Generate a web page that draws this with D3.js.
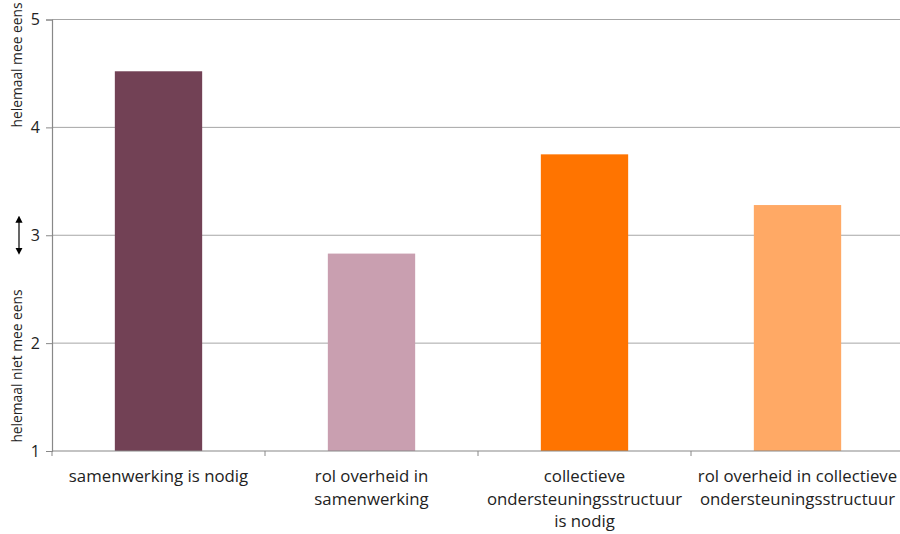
<!DOCTYPE html>
<html>
<head>
<meta charset="utf-8">
<script src="https://d3js.org/d3.v7.min.js"></script>
<style>
  body { margin: 0; background: #fff; overflow: hidden; }
  svg text { font-family: "Open Sans", sans-serif; fill: #222; }
</style>
</head>
<body>
<div id="chart"></div>
<script>
// data
var categories = ["samenwerking is nodig", "rol overheid in samenwerking",
  "collectieve ondersteuningsstructuur is nodig", "rol overheid in collectieve ondersteuningsstructuur"];
var labelLines = [
  ["samenwerking is nodig"],
  ["rol overheid in", "samenwerking"],
  ["collectieve", "ondersteuningsstructuur", "is nodig"],
  ["rol overheid in collectieve", "ondersteuningsstructuur"]
];
var values = [4.52, 2.83, 3.75, 3.28];
var colors = ["#724155", "#c99fb0", "#ff7400", "#ffa965"];
var yTicks = [1, 2, 3, 4, 5];

var width = 900, height = 534;
var margin = {top: 19.5, left: 52, bottom: 83};

var svg = d3.select("#chart").append("svg")
  .attr("width", width)
  .attr("height", height)
  .style("display", "block");

var x = d3.scaleBand()
  .domain(categories)
  .range([margin.left, margin.left + 4 * 213]);

var y = d3.scaleLinear()
  .domain([1, 5])
  .range([height - margin.bottom, margin.top]);

// gridlines
svg.append("g")
  .selectAll("line")
  .data(yTicks.slice(1))
  .enter().append("line")
  .attr("x1", margin.left)
  .attr("x2", width)
  .attr("y1", d => y(d))
  .attr("y2", d => y(d))
  .attr("stroke", "#a6a6a6")
  .attr("stroke-width", 1);

// bars
var barW = x.bandwidth() * 0.41;
svg.append("g")
  .selectAll("rect")
  .data(values)
  .enter().append("rect")
  .attr("x", (d, i) => x(categories[i]) + (x.bandwidth() - barW) / 2)
  .attr("y", d => y(d))
  .attr("width", barW)
  .attr("height", d => y(1) - y(d))
  .attr("fill", (d, i) => colors[i]);

// y axis
var yAxis = svg.append("g")
  .attr("transform", "translate(" + margin.left + ",0)")
  .call(d3.axisLeft(y).tickValues(yTicks).tickFormat(d3.format("d")).tickSize(6).tickPadding(6));
yAxis.select(".domain").attr("stroke", "#888").attr("stroke-width", 1.2);
yAxis.selectAll(".tick line").attr("stroke", "#888");
yAxis.selectAll("text").style("font-size", "16px").attr("fill", "#222");

// x axis
var xAxis = svg.append("g")
  .attr("transform", "translate(0," + y(1) + ")")
  .call(d3.axisBottom(x).tickValues([]).tickSizeOuter(0));
xAxis.select(".domain").attr("stroke", "#888").attr("stroke-width", 1.2)
  .attr("d", "M" + margin.left + ",0H" + width);
xAxis.selectAll(".sep")
  .data(categories)
  .enter().append("line")
  .attr("x1", d => x(d)).attr("x2", d => x(d))
  .attr("y1", 0).attr("y2", 5)
  .attr("stroke", "#888");

// category labels
var lab = svg.append("g").selectAll("text")
  .data(labelLines)
  .enter().append("text")
  .attr("text-anchor", "middle")
  .style("font-size", "16.8px")
  .attr("transform", (d, i) => "translate(" + (x(categories[i]) + x.bandwidth() / 2) + "," + (y(1) + 31) + ")");
lab.selectAll("tspan")
  .data(d => d)
  .enter().append("tspan")
  .attr("x", 0)
  .attr("y", (d, j) => j * 22.5)
  .text(d => d);

// y titles
svg.append("text")
  .attr("transform", "translate(22,65) rotate(-90)")
  .attr("text-anchor", "middle")
  .style("font-size", "13.8px")
  .text("helemaal mee eens");
svg.append("text")
  .attr("transform", "translate(22,366) rotate(-90)")
  .attr("text-anchor", "middle")
  .style("font-size", "13.8px")
  .text("helemaal niet mee eens");

// arrow
svg.append("defs").append("marker")
  .attr("id", "ah")
  .attr("viewBox", "0 0 10 10")
  .attr("refX", 5).attr("refY", 5)
  .attr("markerWidth", 6).attr("markerHeight", 6)
  .attr("orient", "auto-start-reverse")
  .append("path").attr("d", "M0,0L10,5L0,10z").attr("fill", "#000");
svg.append("line")
  .attr("x1", 19).attr("x2", 19)
  .attr("y1", y(3) - 16).attr("y2", y(3) + 16)
  .attr("stroke", "#000").attr("stroke-width", 1.2)
  .attr("marker-start", "url(#ah)")
  .attr("marker-end", "url(#ah)");
</script>
</body>
</html>
